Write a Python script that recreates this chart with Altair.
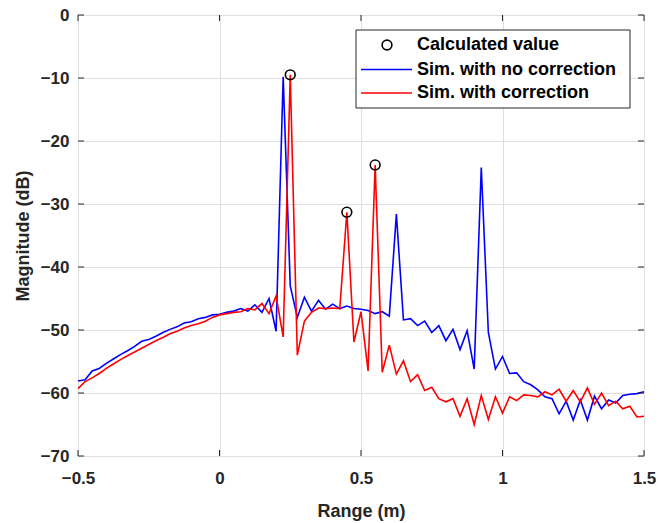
import altair as alt
import pandas as pd

# ---- data ----
range_m = [-0.5, -0.475, -0.45, -0.425, -0.4, -0.375, -0.35, -0.325, -0.3, -0.275,
           -0.25, -0.225, -0.2, -0.175, -0.15, -0.125, -0.1, -0.075, -0.05, -0.025,
           0.0, 0.025, 0.05, 0.075, 0.1, 0.125, 0.15, 0.175, 0.2, 0.225,
           0.25, 0.275, 0.3, 0.325, 0.35, 0.375, 0.4, 0.425, 0.45, 0.475,
           0.5, 0.525, 0.55, 0.575, 0.6, 0.625, 0.65, 0.675, 0.7, 0.725,
           0.75, 0.775, 0.8, 0.825, 0.85, 0.875, 0.9, 0.925, 0.95, 0.975,
           1.0, 1.025, 1.05, 1.075, 1.1, 1.125, 1.15, 1.175, 1.2, 1.225,
           1.25, 1.275, 1.3, 1.325, 1.35, 1.375, 1.4, 1.425, 1.45, 1.475, 1.5]

no_corr = [-58.1, -57.9, -56.5, -56.1, -55.3, -54.6, -53.9, -53.3, -52.6, -51.8,
           -51.5, -51.0, -50.4, -49.9, -49.5, -48.9, -48.7, -48.2, -48.0, -47.6,
           -47.5, -47.2, -47.0, -46.6, -47.0, -46.0, -47.2, -45.0, -50.2, -9.8,
           -43.0, -48.0, -44.8, -47.0, -45.3, -46.7, -45.9, -46.6, -46.2, -46.6,
           -46.7, -46.9, -47.4, -47.1, -47.8, -31.6, -48.4, -48.2, -49.3, -48.6,
           -50.4, -49.3, -51.7, -49.9, -53.1, -50.1, -56.2, -24.2, -50.4, -56.2,
           -54.2, -56.9, -56.8, -58.2, -58.7, -59.5, -60.6, -60.9, -63.3, -61.3,
           -64.3, -61.1, -64.3, -60.5, -62.5, -61.1, -61.6, -60.4, -60.2, -60.1, -59.8]

with_corr = [-59.3, -58.2, -57.6, -56.9, -56.1, -55.4, -54.7, -54.1, -53.5, -52.9,
             -52.3, -51.7, -51.2, -50.6, -50.2, -49.7, -49.3, -49.0, -48.6, -48.0,
             -47.6, -47.4, -47.2, -47.1, -46.6, -46.8, -45.8, -47.4, -44.6, -51.1,
             -9.5, -54.0, -48.6, -47.2, -46.5, -46.6, -46.5, -46.6, -31.3, -51.9,
             -47.1, -56.5, -23.8, -56.7, -52.4, -57.0, -54.9, -58.2, -57.1, -59.6,
             -59.1, -60.9, -61.4, -60.9, -63.7, -60.9, -65.0, -60.4, -64.2, -60.6,
             -63.2, -60.6, -61.2, -60.3, -60.4, -60.6, -59.8, -60.3, -59.4, -61.3,
             -59.6, -61.4, -59.2, -61.8, -60.0, -62.0, -61.3, -62.5, -62.1, -63.8, -63.7]

calc_range = [0.25, 0.45, 0.55]
calc_mag = [-9.5, -31.3, -23.8]

x_ticks = [-0.5, 0, 0.5, 1, 1.5]
y_ticks = [0, -10, -20, -30, -40, -50, -60, -70]

legend_labels = ["Calculated value", "Sim. with no correction", "Sim. with correction"]

W, H = 566, 441
FONT = "Liberation Sans"

df_blue = pd.DataFrame({"x": range_m, "y": no_corr})
df_red = pd.DataFrame({"x": range_m, "y": with_corr})
df_calc = pd.DataFrame({"x": calc_range, "y": calc_mag})
df_xt = pd.DataFrame({"x": x_ticks})
df_yt = pd.DataFrame({"y": y_ticks})
df_one = pd.DataFrame({"a": [0]})

xscale = alt.Scale(domain=[-0.5, 1.5], nice=False, zero=False)
yscale = alt.Scale(domain=[-70, 0], nice=False, zero=False)

axis_style = dict(
    grid=True, ticks=False, domain=False,
    labelFont=FONT, labelFontSize=17, labelFontWeight="bold", labelColor="#262626",
    labelFlush=False, labelOverlap=False,
    titleFont=FONT, titleFontSize=18, titleFontWeight="bold", titleColor="#262626",
    gridColor="#dfdfdf", gridWidth=1, gridOpacity=1,
)

xaxis = alt.Axis(values=x_ticks, title="Range (m)", labelPadding=14, titleY=60,
                 titleBaseline="alphabetic",
                 labelExpr="datum.value == 0 ? '0' : datum.value == 1 ? '1' : format(datum.value, '.1f')",
                 **axis_style)
yaxis = alt.Axis(values=y_ticks, title="Magnitude (dB)", labelPadding=9, titleX=-50,
                 titleY=H / 2, titleBaseline="alphabetic", format="d", **axis_style)

X = alt.X("x:Q", scale=xscale, axis=xaxis)
Y = alt.Y("y:Q", scale=yscale, axis=yaxis)

blue = alt.Chart(df_blue).mark_line(color="#0000ff", strokeWidth=1.6).encode(x=X, y=Y)
red = alt.Chart(df_red).mark_line(color="#ff0000", strokeWidth=1.6).encode(x=X, y=Y)
calc = alt.Chart(df_calc).mark_point(shape="circle", filled=False, color="black",
                                     size=95, strokeWidth=1.6, opacity=1).encode(x=X, y=Y)

TICK = 6
tick_style = dict(color="#262626", strokeWidth=1)
xt_bot = alt.Chart(df_xt).mark_rule(**tick_style).encode(
    x=X, y=alt.value(H), y2=alt.value(H - TICK))
xt_top = alt.Chart(df_xt).mark_rule(**tick_style).encode(
    x=X, y=alt.value(0), y2=alt.value(TICK))
yt_left = alt.Chart(df_yt).mark_rule(**tick_style).encode(
    y=Y, x=alt.value(0), x2=alt.value(TICK))
yt_right = alt.Chart(df_yt).mark_rule(**tick_style).encode(
    y=Y, x=alt.value(W), x2=alt.value(W - TICK))

# ---- legend (drawn manually, MATLAB style) ----
LX0, LX1, LY0, LY1 = 278, 552, 15, 93
leg_box = alt.Chart(df_one).mark_rect(fill="white", stroke="#262626", strokeWidth=1).encode(
    x=alt.value(LX0), x2=alt.value(LX1), y=alt.value(LY0), y2=alt.value(LY1))
row_y = [30, 54.5, 78]
leg_circle = alt.Chart(df_one).mark_point(shape="circle", filled=False, color="black",
                                          size=95, strokeWidth=1.6, opacity=1).encode(
    x=alt.value(309), y=alt.value(row_y[0]))
leg_blue = alt.Chart(df_one).mark_rule(color="#0000ff", strokeWidth=1.6).encode(
    x=alt.value(283), x2=alt.value(334), y=alt.value(row_y[1]))
leg_red = alt.Chart(df_one).mark_rule(color="#ff0000", strokeWidth=1.6).encode(
    x=alt.value(283), x2=alt.value(334), y=alt.value(row_y[2]))
text_style = dict(align="left", baseline="middle", font=FONT, fontSize=18,
                  fontWeight="bold", color="black")
leg_texts = [
    alt.Chart(df_one).mark_text(text=lbl, **text_style).encode(
        x=alt.value(339), y=alt.value(ry))
    for lbl, ry in zip(legend_labels, row_y)
]

chart = alt.layer(
    blue, red, calc, xt_bot, xt_top, yt_left, yt_right,
    leg_box, leg_circle, leg_blue, leg_red, *leg_texts
).properties(
    width=W, height=H,
    autosize=alt.AutoSizeParams(type="none"),
    padding={"left": 78, "top": 15, "right": 14, "bottom": 67},
).configure_view(
    stroke="#262626", strokeWidth=1
).configure(background="white")

chart.save("out.html", embed_options={"renderer": "svg", "actions": False})
